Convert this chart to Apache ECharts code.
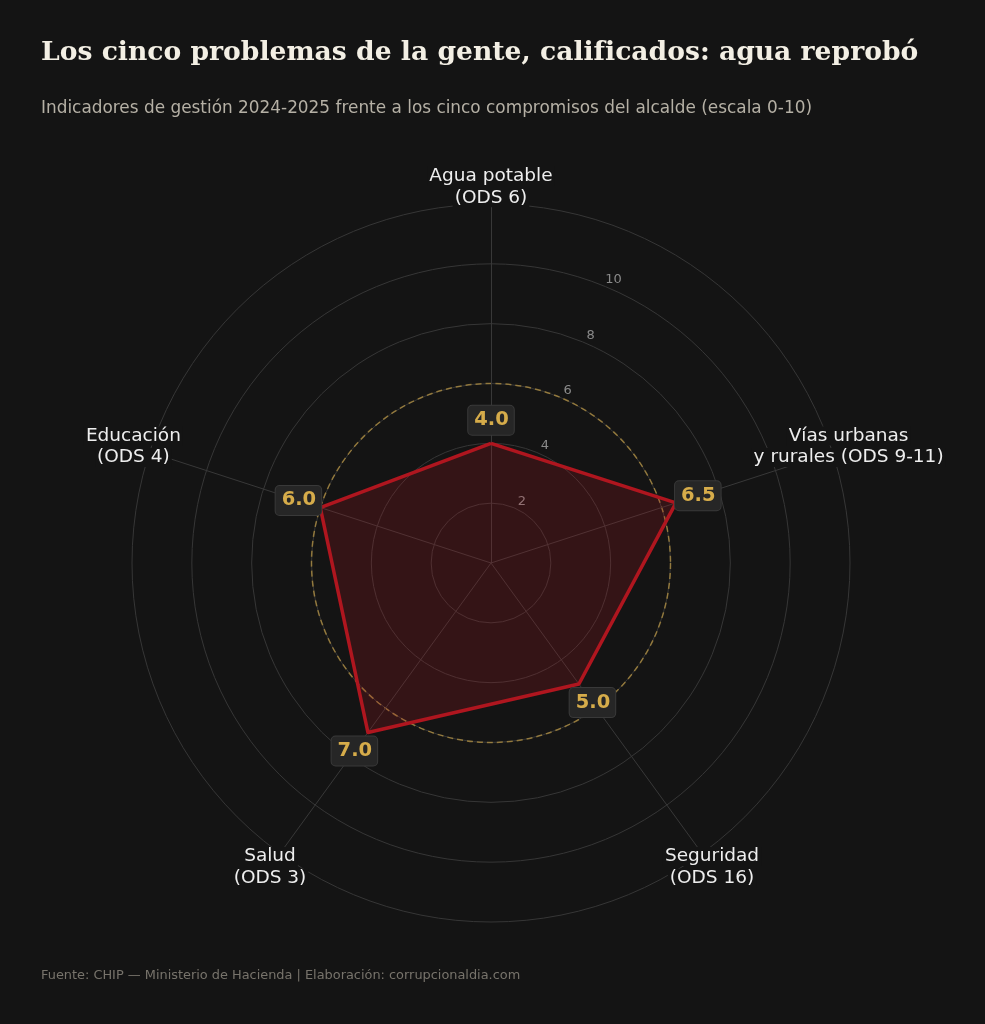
<!DOCTYPE html>
<html lang="es">
<head>
<meta charset="utf-8">
<title>Los cinco problemas de la gente</title>
<script src="https://cdn.jsdelivr.net/npm/echarts@6/dist/echarts.min.js"></script>
<style>
  html, body { margin: 0; padding: 0; background: #141414; }
  #chart1 { width: 985px; height: 1024px; }
</style>
</head>
<body>
<div id="chart1"></div>
<script>
// indicadores en el orden en que ECharts los reparte (antihorario desde arriba)
var indicadores = [
  'Agua potable\n(ODS 6)',
  'Educación\n(ODS 4)',
  'Salud\n(ODS 3)',
  'Seguridad\n(ODS 16)',
  'Vías urbanas\ny rurales (ODS 9-11)'
];
var calificaciones = [4.0, 6.0, 7.0, 5.0, 6.5];
var escalaTicks = [2, 4, 6, 8, 10];
var escalaMax = 12;
var umbral = 6;

var centro = [491, 563];
var R = 359;
var gold = '#d6ac4a';
var fondo = '#141414';
var fontSans = '"DejaVu Sans", sans-serif';

var chartDom = document.getElementById('chart1');
var myChart = echarts.init(chartDom, null, { renderer: 'canvas' });
var option;

// etiquetas de valor: un punto invisible por vértice, desplazado hacia fuera
var paso = 360 / indicadores.length;
var puntos = calificaciones.map(function (v, i) {
  var ang = (90 + i * paso) * Math.PI / 180;
  return {
    value: [v, i * paso],
    label: { offset: [23 * Math.cos(ang), -23 * Math.sin(ang)] }
  };
});

option = {
  backgroundColor: fondo,
  textStyle: { fontFamily: fontSans },
  title: [
    {
      text: 'Los cinco problemas de la gente, calificados: agua reprobó',
      left: 36,
      top: 35,
      textStyle: {
        fontFamily: '"DejaVu Serif", serif',
        fontWeight: 'bold',
        fontSize: 26.6,
        color: '#f3efe4'
      }
    },
    {
      text: 'Indicadores de gestión 2024-2025 frente a los cinco compromisos del alcalde (escala 0-10)',
      left: 36,
      top: 95,
      textStyle: {
        fontFamily: fontSans,
        fontWeight: 'normal',
        fontSize: 16.9,
        color: '#b5b0a5'
      }
    },
    {
      text: 'Fuente: CHIP — Ministerio de Hacienda | Elaboración: corrupcionaldia.com',
      left: 36,
      top: 964,
      textStyle: {
        fontFamily: fontSans,
        fontWeight: 'normal',
        fontSize: 12.9,
        color: '#77736b'
      }
    }
  ],
  radar: {
    center: centro,
    radius: R,
    startAngle: 90,
    shape: 'circle',
    splitNumber: escalaMax / 2,
    indicator: indicadores.map(function (n) {
      return { name: n, min: 0, max: escalaMax };
    }),
    nameGap: 17,
    axisName: {
      align: 'center',
      verticalAlign: 'middle',
      formatter: function (name) {
        return name.split('\n').map(function (l) { return '{n|' + l + '}'; }).join('\n');
      },
      rich: {
        n: {
          color: '#eeeeee',
          fontFamily: fontSans,
          fontSize: 18.5,
          lineHeight: 21.5,
          backgroundColor: fondo,
          padding: [0, 2]
        }
      }
    },
    axisLine: { lineStyle: { color: '#383838', width: 1 } },
    splitLine: { lineStyle: { color: '#363636', width: 1 } },
    splitArea: { show: false },
    axisTick: { show: false },
    axisLabel: { show: false }
  },
  polar: [
    { center: centro, radius: R },
    { center: centro, radius: R },
    { center: centro, radius: R * umbral / escalaMax }
  ],
  angleAxis: [
    { polarIndex: 0, type: 'value', min: 0, max: 360, startAngle: 67.5, show: false },
    { polarIndex: 1, type: 'value', min: 0, max: 360, startAngle: 90, clockwise: false, show: false },
    {
      polarIndex: 2, type: 'value', min: 0, max: 360, startAngle: 90,
      axisLine: { show: true, lineStyle: { color: 'rgba(214,172,74,0.6)', width: 1.5, type: [6, 4] } },
      axisTick: { show: false },
      axisLabel: { show: false },
      splitLine: { show: false }
    }
  ],
  radiusAxis: [
    {
      polarIndex: 0, type: 'value', min: 0, max: escalaMax, interval: 2,
      axisLine: { show: false },
      axisTick: { show: false },
      splitLine: { show: false },
      axisLabel: {
        margin: 0,
        align: 'center',
        verticalAlign: 'bottom',
        padding: [0, 0, 0, 16],
        color: '#8a8a8a',
        fontSize: 13,
        fontFamily: fontSans,
        formatter: function (v) {
          return escalaTicks.indexOf(v) >= 0 ? String(v) : '';
        }
      }
    },
    { polarIndex: 1, type: 'value', min: 0, max: escalaMax, show: false },
    { polarIndex: 2, type: 'value', min: 0, max: 1, show: false }
  ],
  series: [
    {
      type: 'radar',
      symbol: 'none',
      z: 3,
      lineStyle: { color: '#b0161f', width: 3.5 },
      areaStyle: { color: 'rgba(176,22,31,0.3)' },
      data: [{ value: calificaciones, name: 'Calificación' }]
    },
    {
      type: 'scatter',
      coordinateSystem: 'polar',
      polarIndex: 1,
      symbolSize: 0,
      z: 5,
      silent: true,
      itemStyle: { opacity: 1 },
      label: {
        show: true,
        position: 'inside',
        color: gold,
        fontSize: 19.5,
        fontWeight: 'bold',
        fontFamily: fontSans,
        backgroundColor: '#262626',
        borderColor: '#393939',
        borderWidth: 1,
        borderRadius: 4,
        padding: [5, 5, 4, 6],
        formatter: function (p) { return p.value[0].toFixed(1); }
      },
      data: puntos
    }
  ]
};

option && myChart.setOption(option);
window.onresize = function () {
  myChart.resize();
};
</script>
</body>
</html>
